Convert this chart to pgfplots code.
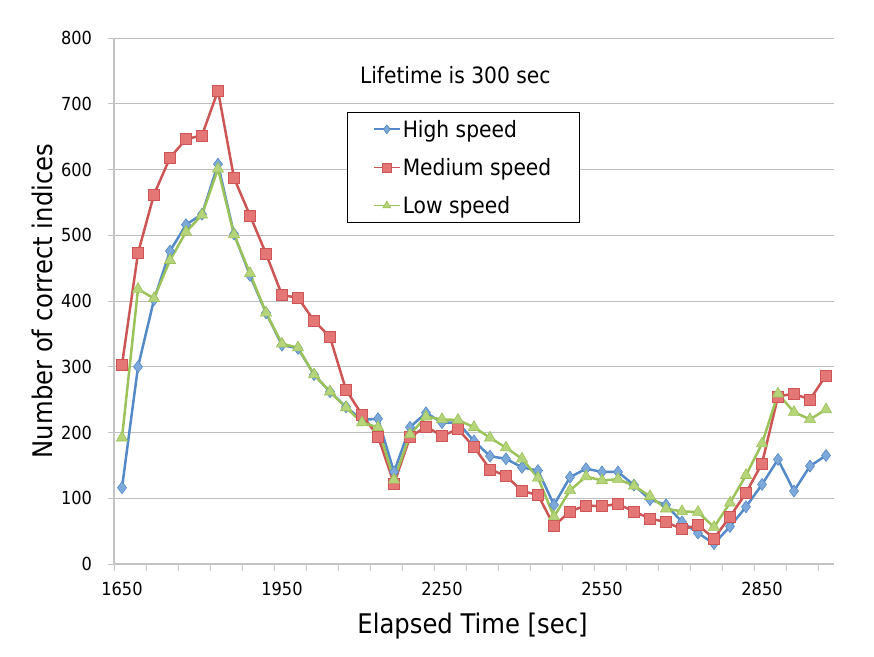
\documentclass[border=0pt]{standalone}
\usepackage{pgfplots}
\pgfplotsset{compat=1.18}
\usepackage{fontspec}
\setmainfont{DejaVu Sans Condensed}

\definecolor{hiline}{RGB}{85,138,200}
\definecolor{hifill}{RGB}{125,168,218}
\definecolor{medline}{RGB}{205,85,85}
\definecolor{medfill}{RGB}{228,118,118}
\definecolor{lowline}{RGB}{155,195,90}
\definecolor{lowfill}{RGB}{182,212,122}
\definecolor{gridgray}{RGB}{190,190,190}
\definecolor{axisgray}{RGB}{195,195,195}

% x = elapsed time, one point every 30 sec
\pgfplotstableread{
x     high  medium  low
1650  116   303     192
1680  300   473     418
1710  402   562     404
1740  476   618     462
1770  516   646     505
1800  532   652     531
1830  608   720     601
1860  502   587     501
1890  439   530     442
1920  382   472     382
1950  333   409     335
1980  328   405     329
2010  288   370     288
2040  262   345     262
2070  239   265     238
2100  219   227     215
2130  221   194     208
2160  140   122     128
2190  208   193     197
2220  230   209     224
2250  215   195     220
2280  215   205     219
2310  187   178     208
2340  164   144     192
2370  160   134     177
2400  147   111     160
2430  142   105     131
2460  90    58      72
2490  132   80      112
2520  145   89      133
2550  140   88      127
2580  140   91      129
2610  120   80      119
2640  98    69      103
2670  90    64      84
2700  64    53      80
2730  47    59      79
2760  31    39      56
2790  57    72      93
2820  87    108     135
2850  121   153     183
2880  159   255     259
2910  111   259     231
2940  149   250     220
2970  165   287     235
}\speeds

\begin{document}
\begin{tikzpicture}
\path[use as bounding box] (0pt,0pt) rectangle (874pt,656pt);
\begin{axis}[
    at={(114pt,92pt)}, anchor=south west,
    width=720pt, height=526pt, scale only axis,
    xmin=1635, xmax=2985,
    ymin=0, ymax=800,
    axis x line=bottom, axis y line=left,
    axis line style={draw=axisgray, line width=1.3pt, -},
    tick align=outside,
    major tick length=6.5pt,
    xtick={1635,1695,...,2955},
    xticklabels={},
    tick style={draw=axisgray, line width=1pt},
    extra x ticks={1650,1950,2250,2550,2850},
    extra x tick labels={1650,1950,2250,2550,2850},
    extra x tick style={major tick length=0pt, xticklabel style={yshift=-15pt}},
    ytick={0,100,...,800},
    ymajorgrids,
    grid style={draw=gridgray, line width=1pt},
    /pgf/number format/assume math mode=true,
    ticklabel style={font=\fontsize{18}{18}\selectfont, text=black},
    yticklabel style={xshift=-12pt},
    xlabel={Elapsed Time [sec]},
    ylabel={Number of correct indices},
    label style={font=\fontsize{27}{27}\selectfont},
    xlabel style={at={(axis description cs:0.498,0)}, anchor=center, yshift=-62pt},
    ylabel style={at={(axis description cs:-0.1,0.5)}, anchor=center},
    legend style={
        at={(axis description cs:0.323,0.860)}, anchor=north west,
        draw=black, line width=0.8pt,
        font=\fontsize{22.5}{22.5}\selectfont,
        inner xsep=26pt, inner ysep=6pt,
        row sep=15.5pt,
    },
    legend cell align=left,
    legend image code/.code={
        \draw[#1, mark size=4.5pt, mark repeat=2, mark phase=2, line width=1.8pt]
            plot coordinates {(0pt,0pt) (13pt,0pt) (26pt,0pt)};
    },
    every axis plot/.append style={line width=2.5pt},
]
\addplot[color=hiline, mark=diamond*, mark size=6pt,
    mark options={fill=hifill, draw=hiline, line width=0.6pt}]
    table[x=x, y=high] {\speeds};
\addlegendentry{High speed}
\addplot[color=medline, mark=square*, mark size=5.5pt,
    mark options={fill=medfill, draw=medline, line width=0.6pt}]
    table[x=x, y=medium] {\speeds};
\addlegendentry{Medium speed}
\addplot[color=lowline, mark=triangle*, mark size=6.5pt,
    mark options={fill=lowfill, draw=lowline, line width=0.6pt}]
    table[x=x, y=low] {\speeds};
\addlegendentry{Low speed}
\node[font=\fontsize{22.5}{22.5}\selectfont] at (axis description cs:0.474,0.93) {Lifetime is 300 sec};
\end{axis}
\end{tikzpicture}
\end{document}
